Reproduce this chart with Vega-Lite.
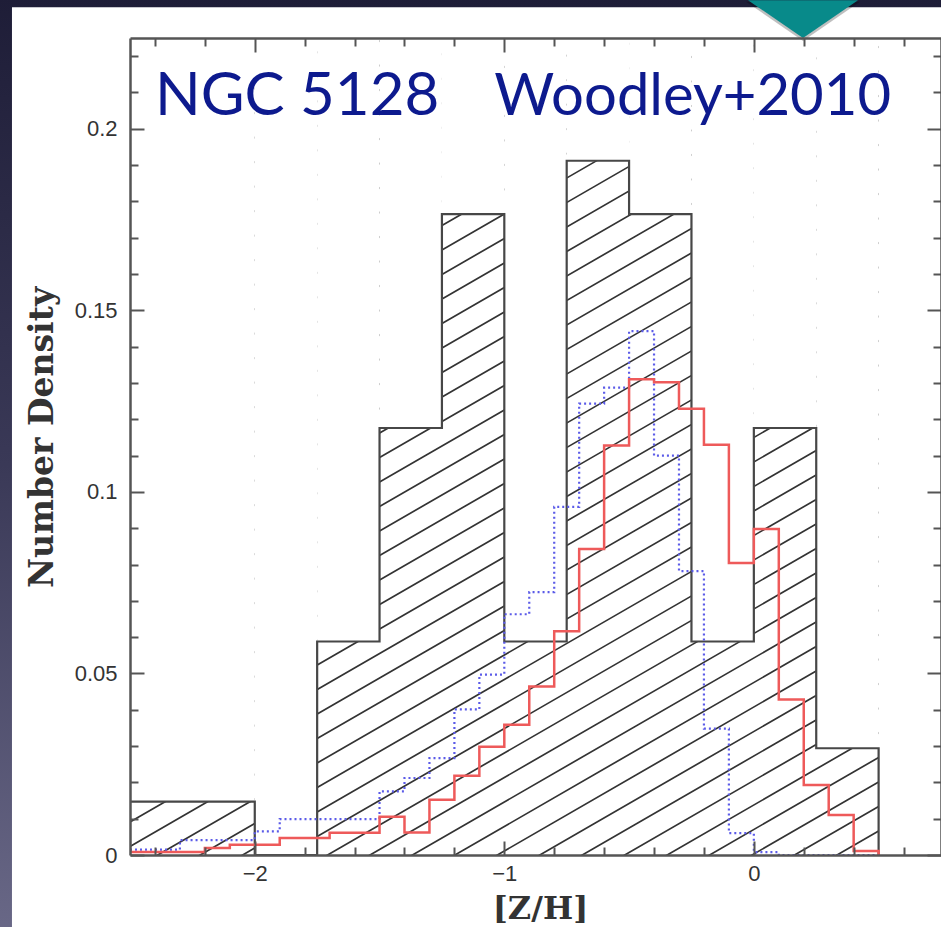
{
  "$schema": "https://vega.github.io/schema/vega-lite/v6.json",
  "width": 811,
  "height": 817,
  "autosize": {"type": "none"},
  "padding": {"left": 130, "top": 38, "right": 0, "bottom": 72},
  "background": "#1e1d39",
  "config": {"view": {"stroke": null}},
  "datasets": {
    "black": [
      {"lo": -2.5, "hi": -2.0, "d": 0.0147},
      {"lo": -2.0, "hi": -1.75, "d": 0},
      {"lo": -1.75, "hi": -1.5, "d": 0.0588},
      {"lo": -1.5, "hi": -1.25, "d": 0.1176},
      {"lo": -1.25, "hi": -1.0, "d": 0.1765},
      {"lo": -1.0, "hi": -0.75, "d": 0.0588},
      {"lo": -0.75, "hi": -0.5, "d": 0.1912},
      {"lo": -0.5, "hi": -0.25, "d": 0.1765},
      {"lo": -0.25, "hi": 0.0, "d": 0.0588},
      {"lo": 0.0, "hi": 0.25, "d": 0.1176},
      {"lo": 0.25, "hi": 0.5, "d": 0.0294},
      {"lo": 0.5, "hi": 0.75, "d": 0}
    ],
    "red": [
      {"lo": -2.5, "d": 0.0008}, {"lo": -2.4, "d": 0.0008}, {"lo": -2.3, "d": 0.0008},
      {"lo": -2.2, "d": 0.0019}, {"lo": -2.1, "d": 0.0028}, {"lo": -2.0, "d": 0.0028},
      {"lo": -1.9, "d": 0.0047}, {"lo": -1.8, "d": 0.0047}, {"lo": -1.7, "d": 0.0061},
      {"lo": -1.6, "d": 0.0061}, {"lo": -1.5, "d": 0.0105}, {"lo": -1.4, "d": 0.0062},
      {"lo": -1.3, "d": 0.0152}, {"lo": -1.2, "d": 0.0218}, {"lo": -1.1, "d": 0.0298},
      {"lo": -1.0, "d": 0.0359}, {"lo": -0.9, "d": 0.0464}, {"lo": -0.8, "d": 0.0616},
      {"lo": -0.7, "d": 0.0843}, {"lo": -0.6, "d": 0.1128}, {"lo": -0.5, "d": 0.131},
      {"lo": -0.4, "d": 0.1302}, {"lo": -0.3, "d": 0.1229}, {"lo": -0.2, "d": 0.113},
      {"lo": -0.1, "d": 0.0804}, {"lo": 0.0, "d": 0.0898}, {"lo": 0.1, "d": 0.0428},
      {"lo": 0.2, "d": 0.0193}, {"lo": 0.3, "d": 0.011}, {"lo": 0.4, "d": 0.0011},
      {"lo": 0.5, "d": 0}
    ],
    "blue": [
      {"lo": -2.5, "d": 0.0015}, {"lo": -2.4, "d": 0.0015}, {"lo": -2.3, "d": 0.0041},
      {"lo": -2.2, "d": 0.0041}, {"lo": -2.1, "d": 0.0041}, {"lo": -2.0, "d": 0.0065},
      {"lo": -1.9, "d": 0.0099}, {"lo": -1.8, "d": 0.0099}, {"lo": -1.7, "d": 0.0099},
      {"lo": -1.6, "d": 0.0099}, {"lo": -1.5, "d": 0.0175}, {"lo": -1.4, "d": 0.0212},
      {"lo": -1.3, "d": 0.0267}, {"lo": -1.2, "d": 0.0401}, {"lo": -1.1, "d": 0.0497},
      {"lo": -1.0, "d": 0.0663}, {"lo": -0.9, "d": 0.0724}, {"lo": -0.8, "d": 0.0959},
      {"lo": -0.7, "d": 0.1243}, {"lo": -0.6, "d": 0.1287}, {"lo": -0.5, "d": 0.1443},
      {"lo": -0.4, "d": 0.110}, {"lo": -0.3, "d": 0.0782}, {"lo": -0.2, "d": 0.0348},
      {"lo": -0.1, "d": 0.006}, {"lo": 0.0, "d": 0.0008}, {"lo": 0.1, "d": 0},
      {"lo": 0.2, "d": 0}, {"lo": 0.3, "d": 0}, {"lo": 0.4, "d": 0}, {"lo": 0.5, "d": 0}
    ]
  },
  "layer": [
    {
      "data": {"values": [{}]},
      "mark": {"type": "rect", "color": {"gradient": "linear", "x1": 0, "y1": 0, "x2": 0, "y2": 1, "stops": [{"offset": 0, "color": "#1c1b35"}, {"offset": 0.5, "color": "#3a3957"}, {"offset": 1, "color": "#6c6b8a"}]}},
      "encoding": {
        "x": {"datum": -3.1, "type": "quantitative", "axis": null},
        "x2": {"datum": 0.8},
        "y": {"datum": -0.03, "type": "quantitative", "axis": null},
        "y2": {"datum": 0.245}
      }
    },
    {
      "data": {"values": [{}]},
      "mark": {"type": "rect", "color": "#ffffff"},
      "encoding": {
        "x": {"datum": -2.973, "type": "quantitative", "axis": null},
        "x2": {"datum": 0.8},
        "y": {"datum": -0.03, "type": "quantitative", "axis": null},
        "y2": {"datum": 0.2335}
      }
    },
    {
      "data": {"values": [{}]},
      "mark": {"type": "point", "clip": true, "filled": false, "opacity": 1, "color": "#333333", "strokeWidth": 1.7, "size": 40000,
        "shape": "M-4.1 -2.834L4.1 -7.566M-4.1 -2.589L4.1 -7.321M-4.1 -2.344L4.1 -7.076M-4.1 -2.099L4.1 -6.831M-4.1 -1.854L4.1 -6.586M-4.1 -1.609L4.1 -6.341M-4.1 -1.364L4.1 -6.096M-4.1 -1.119L4.1 -5.851M-4.1 -0.874L4.1 -5.606M-4.1 -0.629L4.1 -5.361M-4.1 -0.384L4.1 -5.116M-4.1 -0.139L4.1 -4.871M-4.1 0.106L4.1 -4.626M-4.1 0.351L4.1 -4.381M-4.1 0.596L4.1 -4.136M-4.1 0.841L4.1 -3.891M-4.1 1.086L4.1 -3.646M-4.1 1.331L4.1 -3.401M-4.1 1.576L4.1 -3.156M-4.1 1.821L4.1 -2.911M-4.1 2.066L4.1 -2.666M-4.1 2.311L4.1 -2.421M-4.1 2.556L4.1 -2.176M-4.1 2.801L4.1 -1.931M-4.1 3.046L4.1 -1.686M-4.1 3.291L4.1 -1.441M-4.1 3.536L4.1 -1.196M-4.1 3.781L4.1 -0.951M-4.1 4.026L4.1 -0.706M-4.1 4.271L4.1 -0.461M-4.1 4.516L4.1 -0.216M-4.1 4.761L4.1 0.029M-4.1 5.006L4.1 0.274M-4.1 5.251L4.1 0.519M-4.1 5.496L4.1 0.764M-4.1 5.741L4.1 1.009M-4.1 5.986L4.1 1.254M-4.1 6.231L4.1 1.499M-4.1 6.476L4.1 1.744M-4.1 6.721L4.1 1.989M-4.1 6.966L4.1 2.234M-4.1 7.211L4.1 2.479M-4.1 7.456L4.1 2.724M-4.1 7.701L4.1 2.969M-4.1 7.946L4.1 3.214M-4.1 8.191L4.1 3.459M-4.1 8.436L4.1 3.704"},
      "encoding": {
        "x": {"datum": -0.875, "type": "quantitative", "axis": null},
        "y": {"datum": 0.1125, "type": "quantitative", "axis": null}
      }
    },
    {
      "data": {"name": "black"},
      "mark": {"type": "rect", "color": "#ffffff", "clip": true},
      "encoding": {
        "x": {"field": "lo", "type": "quantitative",
          "scale": {"domain": [-2.5, 0.75], "nice": false, "zero": false},
          "axis": {
            "orient": "bottom", "zindex": 1, "grid": false,
            "values": [-2.4, -2.2, -2, -1.8, -1.6, -1.4, -1.2, -1, -0.8, -0.6, -0.4, -0.2, 0, 0.2, 0.4, 0.6],
            "format": "~g",
            "labelExpr": "abs(datum.value-round(datum.value))<1e-6 ? datum.label : ''",
            "tickSize": {"condition": {"test": "abs(datum.value-round(datum.value))<1e-6", "value": -14}, "value": -8},
            "tickColor": "#555555", "tickWidth": 2, "domainColor": "#555555", "domainWidth": 2.5,
            "labelFont": "Liberation Sans", "labelFontSize": 22, "labelColor": "#333333", "labelPadding": 22,
            "labelOverlap": false, "labelFlush": false,
            "title": "[Z/H]", "titleFont": "DejaVu Serif", "titleFontWeight": "bold", "titleFontSize": 32, "titleColor": "#333333",
            "titleX": 410, "titleY": 53, "titleAlign": "center", "titleBaseline": "middle"
          }
        },
        "x2": {"field": "hi"},
        "y": {"field": "d", "type": "quantitative",
          "scale": {"domain": [0, 0.225], "nice": false, "zero": false},
          "axis": {
            "orient": "left", "zindex": 1, "grid": false,
            "values": [0, 0.01, 0.02, 0.03, 0.04, 0.05, 0.06, 0.07, 0.08, 0.09, 0.1, 0.11, 0.12, 0.13, 0.14, 0.15, 0.16, 0.17, 0.18, 0.19, 0.2, 0.21, 0.22],
            "format": "~g",
            "labelExpr": "abs(datum.value*20-round(datum.value*20))<1e-6 ? datum.label : ''",
            "tickSize": {"condition": {"test": "abs(datum.value*20-round(datum.value*20))<1e-6", "value": -14}, "value": -8},
            "tickColor": "#555555", "tickWidth": 2, "domainColor": "#555555", "domainWidth": 2.5,
            "labelFont": "Liberation Sans", "labelFontSize": 22, "labelColor": "#333333", "labelPadding": 27,
            "labelOverlap": false, "labelFlush": false,
            "title": "Number Density", "titleFont": "DejaVu Serif", "titleFontWeight": "bold", "titleFontSize": 33, "titleColor": "#333333",
            "titleX": -88, "titleY": 399, "titleAlign": "center", "titleBaseline": "middle", "titleAngle": -90
          }
        },
        "y2": {"datum": 0.225}
      }
    },
    {
      "data": {"name": "black"},
      "mark": {"type": "line", "interpolate": "step-after", "color": "#474747", "strokeWidth": 2.2, "clip": true},
      "encoding": {
        "x": {"field": "lo", "type": "quantitative",
          "axis": {
            "orient": "top", "zindex": 1, "grid": false, "labels": false, "title": null,
            "values": [-2.4, -2.2, -2, -1.8, -1.6, -1.4, -1.2, -1, -0.8, -0.6, -0.4, -0.2, 0, 0.2, 0.4, 0.6],
            "tickSize": {"condition": {"test": "abs(datum.value-round(datum.value))<1e-6", "value": -14}, "value": -8},
            "tickColor": "#555555", "tickWidth": 2, "domainColor": "#555555", "domainWidth": 2.5
          }
        },
        "y": {"field": "d", "type": "quantitative",
          "axis": {
            "orient": "right", "zindex": 1, "grid": false, "labels": false, "title": null,
            "values": [0, 0.01, 0.02, 0.03, 0.04, 0.05, 0.06, 0.07, 0.08, 0.09, 0.1, 0.11, 0.12, 0.13, 0.14, 0.15, 0.16, 0.17, 0.18, 0.19, 0.2, 0.21, 0.22],
            "tickSize": {"condition": {"test": "abs(datum.value*20-round(datum.value*20))<1e-6", "value": -14}, "value": -8},
            "tickColor": "#555555", "tickWidth": 2, "domainColor": "#555555", "domainWidth": 2.5
          }
        }
      }
    },
    {
      "data": {"name": "blue"},
      "mark": {"type": "line", "interpolate": "step-after", "color": "#5b5be8", "strokeWidth": 2.2, "strokeDash": [2, 3], "clip": true},
      "encoding": {
        "x": {"field": "lo", "type": "quantitative", "axis": null},
        "y": {"field": "d", "type": "quantitative", "axis": null}
      }
    },
    {
      "data": {"name": "red"},
      "mark": {"type": "line", "interpolate": "step-after", "color": "#ee5a5a", "strokeWidth": 2.5, "clip": true},
      "encoding": {
        "x": {"field": "lo", "type": "quantitative", "axis": null},
        "y": {"field": "d", "type": "quantitative", "axis": null}
      }
    },
    {
      "data": {"values": [{}]},
      "mark": {"type": "text", "text": "NGC 5128", "font": "Lato", "fontSize": 60, "color": "#0d1a8e", "align": "left", "baseline": "alphabetic"},
      "encoding": {
        "x": {"datum": -2.4, "type": "quantitative", "axis": null},
        "y": {"datum": 0.2038, "type": "quantitative", "axis": null}
      }
    },
    {
      "data": {"values": [{}]},
      "mark": {"type": "text", "text": "Woodley+2010", "font": "Lato", "fontSize": 58, "color": "#0d1a8e", "align": "left", "baseline": "alphabetic"},
      "encoding": {
        "x": {"datum": -1.04, "type": "quantitative", "axis": null},
        "y": {"datum": 0.2038, "type": "quantitative", "axis": null}
      }
    },
    {
      "data": {"values": [{}]},
      "mark": {"type": "point", "filled": true, "opacity": 0.25, "color": "#000000", "size": 13000, "shape": "M-1 -0.345L1 -0.345L0 0.345Z"},
      "encoding": {
        "x": {"datum": 0.197, "type": "quantitative", "axis": null},
        "y": {"datum": 0.2296, "type": "quantitative", "axis": null}
      }
    },
    {
      "data": {"values": [{}]},
      "mark": {"type": "point", "filled": true, "opacity": 1, "color": "#088a8a", "size": 12100, "shape": "M-1 -0.345L1 -0.345L0 0.345Z"},
      "encoding": {
        "x": {"datum": 0.197, "type": "quantitative", "axis": null},
        "y": {"datum": 0.2302, "type": "quantitative", "axis": null}
      }
    }
  ],
  "resolve": {"axis": {"x": "independent", "y": "independent"}}
}
